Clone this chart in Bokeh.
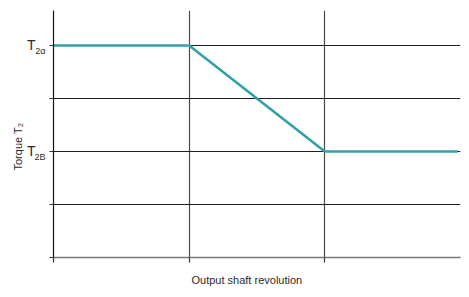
from bokeh.plotting import figure
from bokeh.models import FixedTicker, Range1d, LinearAxis, Title, CustomJSTickFormatter
from bokeh.embed import file_html
from bokeh.resources import INLINE

# data
shaft_rev = [0, 1, 2, 2.98]
torque = [4, 4, 2, 2]
y_ticks = [0, 1, 2, 3, 4]
y_grid = [1, 2, 3, 4]
x_ticks = [0, 1, 2]
x_grid = [1, 2]
level_values = [2, 4]
level_main = ["T", "T"]
level_sub = ["2B", "2α"]
y_title = "Torque T₂"
x_title = "Output shaft revolution"

FW, FH = 407, 247
X0, X1 = 0, 3
Y0, Y1 = 0, 4.66
YPX = FH / (Y1 - Y0)

p = figure(frame_width=FW, frame_height=FH, output_backend="svg", toolbar_location=None,
           x_range=Range1d(X0, X1), y_range=Range1d(Y0, Y1),
           min_border_left=53, min_border_right=9, min_border_top=10, min_border_bottom=40)
p.outline_line_color = None
p.background_fill_color = "white"

font = "Liberation Sans"
col = "#2a2a2a"

p.xgrid.ticker = FixedTicker(ticks=x_grid)
p.ygrid.ticker = FixedTicker(ticks=y_grid)
p.xgrid.grid_line_color = "#4a4a4a"
p.xgrid.grid_line_width = 1.2
p.ygrid.grid_line_color = "#1e1e1e"
p.ygrid.grid_line_width = 1

# left axis: tick marks + subscript labels
ya = p.yaxis[0]
ya.ticker = FixedTicker(ticks=[v - 6 / YPX for v in level_values], minor_ticks=y_ticks)
ya.formatter = CustomJSTickFormatter(args=dict(labels=level_sub), code="return labels[index];")
ya.major_label_text_font = font
ya.major_label_text_font_size = "9px"
ya.major_label_text_color = col
ya.major_label_standoff = 4
ya.major_tick_line_color = None
ya.major_tick_out = 4
ya.major_tick_in = 0
ya.minor_tick_line_color = "#333333"
ya.minor_tick_out = 4
ya.minor_tick_in = 0
ya.axis_line_color = "#111111"
ya.axis_line_width = 1.2

# second left axis: main "T" letters
yb = LinearAxis(ticker=FixedTicker(ticks=level_values, minor_ticks=[]),
                formatter=CustomJSTickFormatter(args=dict(labels=level_main), code="return labels[index];"))
yb.axis_line_color = None
yb.major_tick_line_color = None
yb.minor_tick_line_color = None
yb.major_tick_out = 0
yb.major_tick_in = 0
yb.major_label_standoff = -4
yb.major_label_text_font = font
yb.major_label_text_font_size = "14px"
yb.major_label_text_color = col
p.add_layout(yb, "left")

p.add_layout(Title(text=y_title, align="left", offset=87, standoff=0, text_font=font,
                   text_font_size="11px", text_font_style="normal", text_color=col), "left")

# bottom axis
xa = p.xaxis[0]
xa.ticker = FixedTicker(ticks=[], minor_ticks=x_ticks)
xa.axis_line_color = "#777777"
xa.axis_line_width = 1.5
xa.major_tick_out = 5
xa.major_tick_in = 0
xa.minor_tick_line_color = "#333333"
xa.minor_tick_line_width = 1.2
xa.minor_tick_out = 5
xa.minor_tick_in = 0

p.add_layout(Title(text=x_title, align="left", offset=138, standoff=18, text_font=font,
                   text_font_size="11px", text_font_style="normal", text_color=col), "below")

p.line(shaft_rev, torque, line_color="#33a0a8", line_width=2.6)

open("out.html", "w").write(file_html(p, INLINE))
